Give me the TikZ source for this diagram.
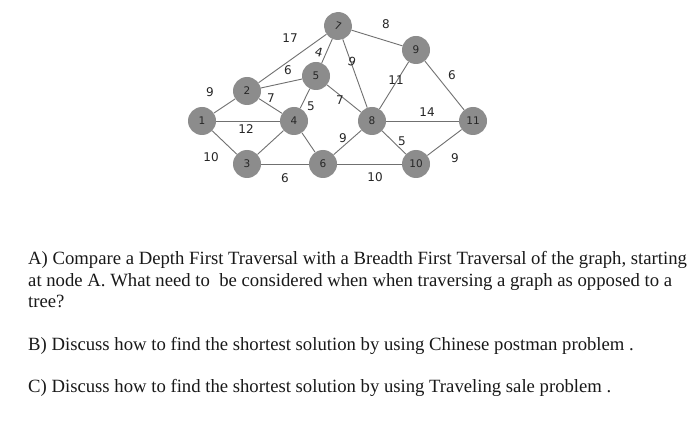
\documentclass[tikz,border=0pt]{standalone}
\usepackage{fontspec}
\setmainfont{Liberation Serif}
\newfontfamily\graphfont{DejaVu Sans}
\begin{document}
\begin{tikzpicture}[x=1pt,y=-1pt,
  vert/.style={circle,fill=vgray,minimum size=28pt,inner sep=0pt,font=\graphfont\fontsize{10.5}{10.5}\selectfont,text=black!85},
  edge/.style={draw=egray,line width=0.9pt},
  wlab/.style={font=\graphfont\fontsize{12}{12}\selectfont,text=black!85,inner sep=0pt},
  qline/.style={anchor=base west,inner sep=0pt,font=\fontsize{18.7}{21}\selectfont,text=black!90}]
\definecolor{vgray}{HTML}{8C8C8C}
\definecolor{egray}{HTML}{707070}
\useasboundingbox (0,0) rectangle (700,446);
\fill[white] (0,0) rectangle (700,446);
% vertices
\node[vert] (n1) at (202,121) {1};
\node[vert] (n2) at (247,91) {2};
\node[vert] (n3) at (247,164) {3};
\node[vert] (n4) at (294,121) {4};
\node[vert] (n5) at (316,76) {5};
\node[vert] (n6) at (323,164) {6};
\node[vert,rotate=-20] (n7) at (338,26) {7};
\node[vert] (n8) at (372,121) {8};
\node[vert] (n9) at (416,50) {9};
\node[vert] (n10) at (416,164) {10};
\node[vert] (n11) at (473,121) {11};
% edges
\path[edge] (n1) -- (n2);
\path[edge] (n1) -- (n4);
\path[edge] (n1) -- (n3);
\path[edge] (n2) -- (n7);
\path[edge] (n2) -- (n5);
\path[edge] (n2) -- (n4);
\path[edge] (n5) -- (n7);
\path[edge] (n5) -- (n4);
\path[edge] (n5) -- (n8);
\path[edge] (n7) -- (n8);
\path[edge] (n7) -- (n9);
\path[edge] (n9) -- (n8);
\path[edge] (n9) -- (n11);
\path[edge] (n8) -- (n11);
\path[edge] (n8) -- (n10);
\path[edge] (n8) -- (n6);
\path[edge] (n4) -- (n6);
\path[edge] (n3) -- (n4);
\path[edge] (n3) -- (n6);
\path[edge] (n6) -- (n10);
\path[edge] (n10) -- (n11);
% weights
\node[wlab] (w12) at (210,92) {9};
\node[wlab] (w14) at (246,129) {12};
\node[wlab] (w13) at (211,157) {10};
\node[wlab] (w27) at (290,38) {17};
\node[wlab] (w25) at (288,70) {6};
\node[wlab] (w24) at (271,98) {7};
\node[wlab,rotate=-15] (w57) at (319,52) {4};
\node[wlab] (w54) at (311,106) {5};
\node[wlab] (w58) at (340,100) {7};
\node[wlab,rotate=-20] (w78) at (352,62) {9};
\node[wlab] (w79) at (386,24) {8};
\node[wlab] (w98) at (396,80) {11};
\node[wlab] (w911) at (452,75) {6};
\node[wlab] (w811) at (427,112) {14};
\node[wlab] (w810) at (402,141) {5};
\node[wlab] (w86) at (343,138) {9};
\node[wlab] (w36) at (285,178) {6};
\node[wlab] (w610) at (375,177) {10};
\node[wlab] (w1011) at (455,158) {9};
% question text
\node[qline] (qa1) at (28,264) {A) Compare a Depth First Traversal with a Breadth First Traversal of the graph, starting};
\node[qline] (qa2) at (28,286) {at node A. What need to\ \ be considered when when traversing a graph as opposed to a};
\node[qline] (qa3) at (28,307) {tree?};
\node[qline] (qb) at (28,350) {B) Discuss how to find the shortest solution by using Chinese postman problem .};
\node[qline] (qc) at (28,392) {C) Discuss how to find the shortest solution by using Traveling sale problem .};
\end{tikzpicture}
\end{document}
